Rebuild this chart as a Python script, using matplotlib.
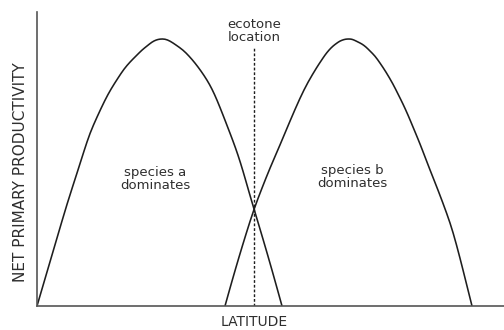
import matplotlib
matplotlib.use("Agg")
import matplotlib.pyplot as plt
from matplotlib.path import Path
from matplotlib.patches import PathPatch

# Net primary productivity of two species along a latitude gradient (arbitrary units)
lat_a = [0, 10, 20, 30, 41, 47, 53, 60, 68, 74, 81, 87, 93, 99, 105, 110, 115, 119,
         123, 128, 133, 139, 146, 152, 158, 164, 170, 175, 180, 186, 191, 196, 201,
         206, 212, 217, 226, 235, 245]
npp_a = [0, 34, 68, 102, 136, 155, 173, 189, 206, 217, 228, 237, 244, 250, 256, 260,
         264, 266, 267, 267, 265, 261, 256, 250, 243, 235, 226, 217, 206, 191, 178,
         165, 151, 135, 114, 97, 67, 36, 0]

lat_b = [188, 195, 202, 209, 217, 225, 233, 243, 253, 263, 271, 280, 284, 288, 292,
         296, 300, 303, 307, 310, 314, 317, 321, 325, 329, 333, 338, 343, 349, 356,
         361, 366, 371, 376, 381, 385, 393, 401, 410, 416, 423, 429, 435]
npp_b = [0, 25, 49, 72, 97, 118, 138, 161, 185, 208, 224, 239, 245, 251, 256, 260,
         263, 265, 266.5, 267, 267, 266, 264, 262, 259, 255, 250, 243, 234, 222, 212,
         202, 191, 179, 167, 157, 136, 116, 92, 74, 48, 24, 0]

ecotone_lat = 217
ecotone_top = 259

labels = {
    "a": "species a\ndominates",
    "b": "species b\ndominates",
    "eco": "ecotone\nlocation",
    "x": "LATITUDE",
    "y": "NET PRIMARY PRODUCTIVITY",
}


def smooth_path(xs, ys):
    """Quadratic Bezier path through the midpoints, using each sample as control."""
    pts = list(zip(xs, ys))
    verts = [pts[0]]
    codes = [Path.MOVETO]
    mid = lambda p, q: ((p[0] + q[0]) / 2, (p[1] + q[1]) / 2)
    verts.append(mid(pts[0], pts[1]))
    codes.append(Path.LINETO)
    for i in range(1, len(pts) - 1):
        verts += [pts[i], mid(pts[i], pts[i + 1])]
        codes += [Path.CURVE3, Path.CURVE3]
    verts.append(pts[-1])
    codes.append(Path.LINETO)
    return Path(verts, codes)


plt.rcParams["font.family"] = ["DejaVu Sans"]

fig = plt.figure(figsize=(5.04, 3.30), dpi=100)
W, H = 504, 330
ax = fig.add_axes([37 / W, (H - 306) / H, (W - 37) / W, (306 - 12) / H])
ax.set_xlim(0, 467)
ax.set_ylim(0, 294)

line_col = "#1e1e1e"
for xs, ys in ((lat_a, npp_a), (lat_b, npp_b)):
    ax.add_patch(PathPatch(smooth_path(xs, ys), facecolor="none",
                           edgecolor=line_col, lw=1.15, joinstyle="round"))
ax.plot([ecotone_lat, ecotone_lat], [0, ecotone_top], color=line_col, lw=1.0,
        linestyle=(0, (2.0, 1.4)))

for s in ("top", "right"):
    ax.spines[s].set_visible(False)
for s in ("left", "bottom"):
    ax.spines[s].set_color("#555555")
    ax.spines[s].set_linewidth(1.2)
ax.set_xticks([])
ax.set_yticks([])

txt_col = "#2e2e2e"
ax.text(118, 127, labels["a"], ha="center", va="center", fontsize=9.5,
        color=txt_col, linespacing=0.95)
ax.text(315, 129, labels["b"], ha="center", va="center", fontsize=9.5,
        color=txt_col, linespacing=0.95)
ax.text(ecotone_lat, 275, labels["eco"], ha="center", va="center", fontsize=9.5,
        color=txt_col, linespacing=0.95, clip_on=False)
ax.text(ecotone_lat, -16, labels["x"], ha="center", va="center", fontsize=10,
        color=txt_col, clip_on=False)
ax.text(-16, 134, labels["y"], ha="center", va="center", rotation=90,
        fontsize=11, color=txt_col, clip_on=False)

fig.savefig("out.png", dpi=100, facecolor="white")
